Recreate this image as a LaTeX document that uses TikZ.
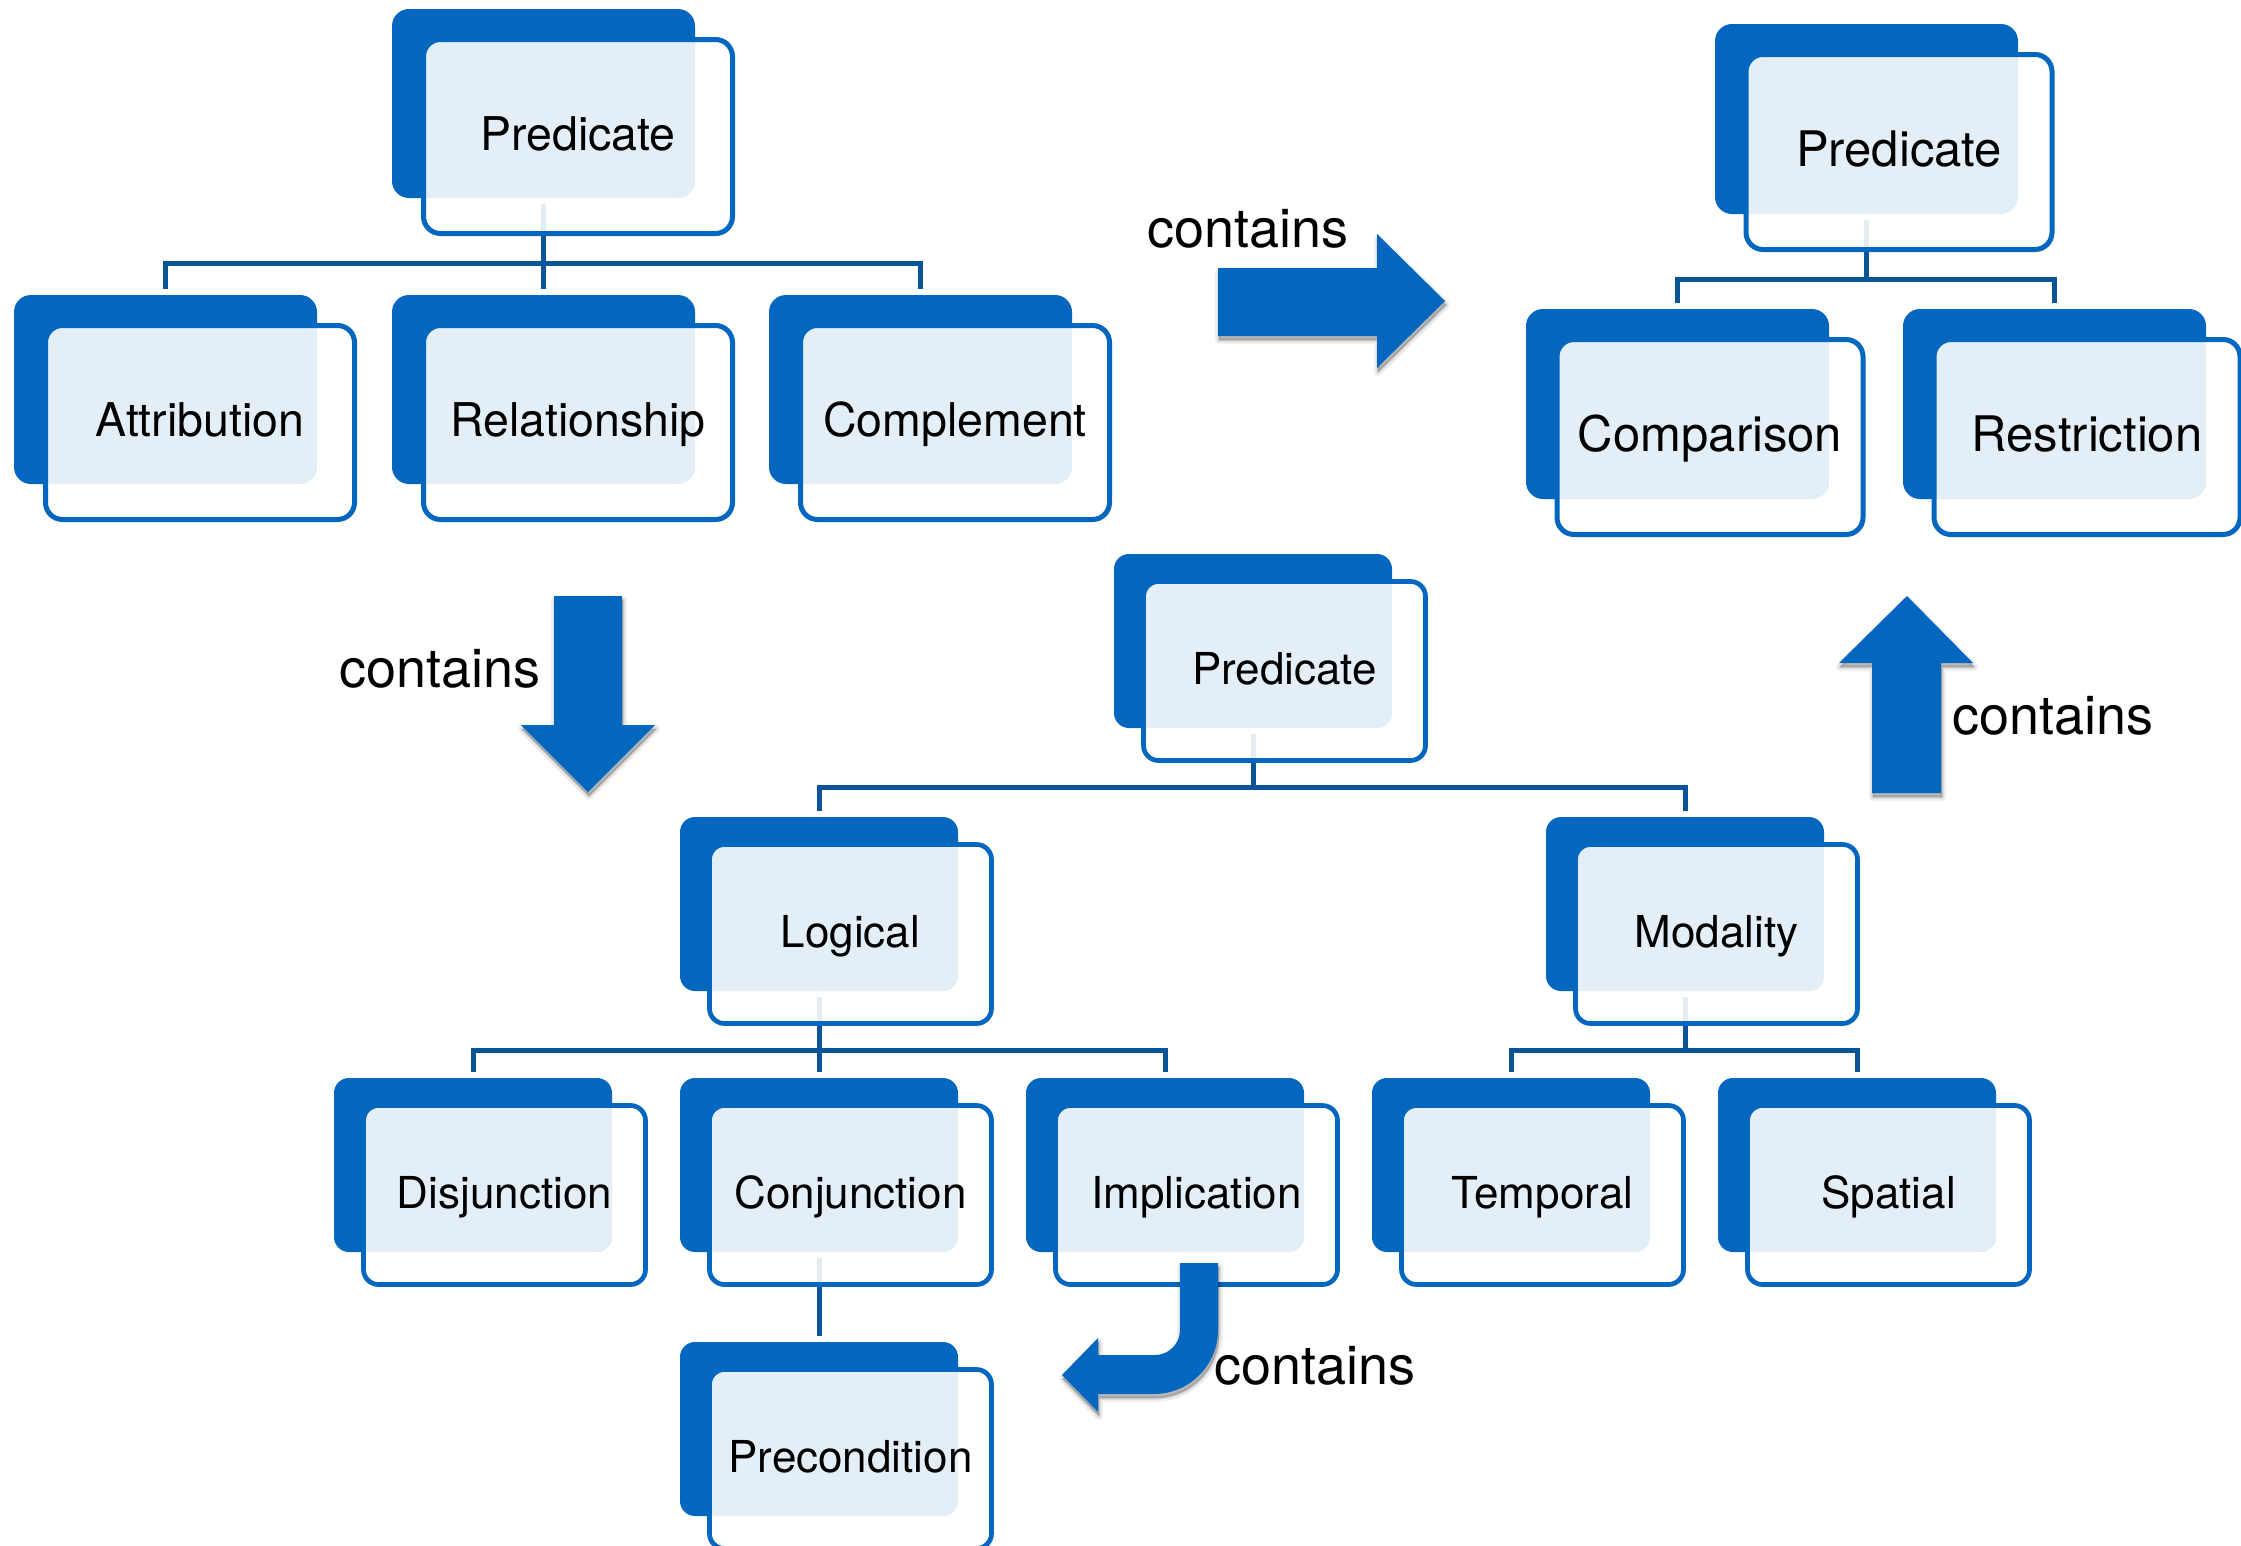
\documentclass[tikz,border=0pt]{standalone}
\usepackage{fontspec}
\setmainfont{TeX Gyre Heros}
\definecolor{boxblue}{RGB}{3,102,191}
\definecolor{lineblue}{RGB}{10,84,154}
\def\arrowR{(1218,268) -- (1377,268) -- (1377,234) -- (1445,301) -- (1377,368) -- (1377,336) -- (1218,336) -- cycle}
\def\arrowD{(554,596) -- (622,596) -- (622,725) -- (655,725) -- (588,792) -- (521,725) -- (554,725) -- cycle}
\def\arrowU{(1872,793) -- (1941,793) -- (1941,663) -- (1973,663) -- (1907,596) -- (1839,663) -- (1872,663) -- cycle}
\def\arrowC{(1180,1263) -- (1218,1263) -- (1218,1330)
   .. controls (1218,1365.3) and (1189.3,1394) .. (1154,1394)
   -- (1098,1394) -- (1098,1412) -- (1062,1375) -- (1098,1338) -- (1098,1355) -- (1155,1355)
   .. controls (1168.8,1355) and (1180,1343.8) .. (1180,1330) -- cycle}
\begin{document}
\begin{tikzpicture}[x=1pt,y=-1pt,
  dkbase/.style={rectangle, fill=boxblue, draw=none, anchor=north west, inner sep=0pt, outer sep=0pt, rounded corners=17pt},
  olbase/.style={rectangle, draw=boxblue, line width=5pt, fill=white, fill opacity=0.89, text opacity=1, anchor=north west, inner sep=0pt, outer sep=0pt, rounded corners=17pt, text=black},
  dkA/.style={dkbase, minimum width=303pt, minimum height=189pt},
  olA/.style={olbase, minimum width=309pt, minimum height=194pt, font=\fontsize{46.5}{56}\selectfont, text height=35pt, text depth=8pt},
  dkB/.style={dkbase, minimum width=303pt, minimum height=190pt},
  olB/.style={olbase, minimum width=306pt, minimum height=195pt, font=\fontsize{49}{59}\selectfont, text height=36.5pt, text depth=8pt},
  dkC/.style={dkbase, rounded corners=15pt, minimum width=278pt, minimum height=174pt},
  olC/.style={olbase, rounded corners=15pt, line width=4.7pt, minimum width=282pt, minimum height=179pt, font=\fontsize{44}{53}\selectfont, text height=33pt, text depth=7pt},
  conn/.style={draw=lineblue, line width=5pt, line join=miter},
  bigarrow/.style={fill=boxblue},
  shadowlayer/.style={fill=black, draw=black, line join=round, opacity=#1, shift={(1,4)}},
  lbl/.style={anchor=base, inner sep=0pt, font=\fontsize{54}{64}\selectfont, text=black}
]
\useasboundingbox (0,0) rectangle (2241,1545);
\fill[white] (0,0) rectangle (2241,1545);

% ---------- dark back boxes ----------
\node[dkA] (p1) at (392,9) {};
\node[dkA] (a1) at (14,295) {};
\node[dkA] (r1) at (392,295) {};
\node[dkA] (c1) at (769,295) {};

\node[dkB] (p2) at (1715,24) {};
\node[dkB] (cm) at (1526,309) {};
\node[dkB] (rs) at (1903,309) {};

\node[dkC] (p3) at (1114,554) {};
\node[dkC] (lg) at (680,817) {};
\node[dkC] (md) at (1546,817) {};
\node[dkC] (dj) at (334,1078) {};
\node[dkC] (cj) at (680,1078) {};
\node[dkC] (im) at (1026,1078) {};
\node[dkC] (tp) at (1372,1078) {};
\node[dkC] (sp) at (1718,1078) {};
\node[dkC] (pc) at (680,1342) {};

% ---------- connectors ----------
\coordinate (b1) at (0,263);
\draw[conn] ([yshift=-6pt]p1.south) -- (p1.south |- b1);
\draw[conn] ([yshift=6pt]a1.north) -- (a1.north |- b1) -- (c1.north |- b1) -- ([yshift=6pt]c1.north);
\draw[conn] ([yshift=6pt]r1.north) -- (r1.north |- b1);

\coordinate (b2) at (0,279);
\draw[conn] ([yshift=-6pt]p2.south) -- (p2.south |- b2);
\draw[conn] ([yshift=6pt]cm.north) -- (cm.north |- b2) -- (rs.north |- b2) -- ([yshift=6pt]rs.north);

\coordinate (b3) at (0,787);
\draw[conn] ([yshift=-6pt]p3.south) -- (p3.south |- b3);
\draw[conn] ([yshift=6pt]lg.north) -- (lg.north |- b3) -- (md.north |- b3) -- ([yshift=6pt]md.north);

\coordinate (b4) at (0,1050);
\draw[conn] ([yshift=-6pt]lg.south) -- (lg.south |- b4);
\draw[conn] ([yshift=6pt]dj.north) -- (dj.north |- b4) -- (im.north |- b4) -- ([yshift=6pt]im.north);
\draw[conn] ([yshift=6pt]cj.north) -- (cj.north |- b4);
\draw[conn] ([yshift=-6pt]md.south) -- (md.south |- b4);
\draw[conn] ([yshift=6pt]tp.north) -- (tp.north |- b4) -- (sp.north |- b4) -- ([yshift=6pt]sp.north);
\draw[conn] ([yshift=-6pt]cj.south) -- ([yshift=6pt]pc.north);

% ---------- front outlined boxes ----------
\node[olA] (p1o) at ([shift={(31.5,30.5)}]p1.north west) {Predicate};
\node[olA] (a1o) at ([shift={(31.5,30.5)}]a1.north west) {Attribution};
\node[olA] (r1o) at ([shift={(31.5,30.5)}]r1.north west) {Relationship};
\node[olA] (c1o) at ([shift={(31.5,30.5)}]c1.north west) {Complement};

\node[olB] (p2o) at ([shift={(31,30.5)}]p2.north west) {Predicate};
\node[olB] (cmo) at ([shift={(31,30.5)}]cm.north west) {Comparison};
\node[olB] (rso) at ([shift={(31,30.5)}]rs.north west) {Restriction};

\node[olC] (p3o) at ([shift={(29.5,27.5)}]p3.north west) {Predicate};
\node[olC] (lgo) at ([shift={(29.5,27.5)}]lg.north west) {Logical};
\node[olC] (mdo) at ([shift={(29.5,27.5)}]md.north west) {Modality};
\node[olC] (djo) at ([shift={(29.5,27.5)}]dj.north west) {Disjunction};
\node[olC] (cjo) at ([shift={(29.5,27.5)}]cj.north west) {Conjunction};
\node[olC] (imo) at ([shift={(29.5,27.5)}]im.north west) {Implication};
\node[olC] (tpo) at ([shift={(29.5,27.5)}]tp.north west) {Temporal};
\node[olC] (spo) at ([shift={(29.5,27.5)}]sp.north west) {Spatial};
\node[olC] (pco) at ([shift={(29.5,27.5)}]pc.north west) {Precondition};

% ---------- soft shadows of the block arrows ----------
\foreach \p in {\arrowR,\arrowD,\arrowU,\arrowC}{
  \path[shadowlayer=0.06, line width=8pt] \p;
  \path[shadowlayer=0.08, line width=4pt] \p;
  \path[shadowlayer=0.10, line width=1pt] \p;
}

% ---------- block arrows ----------
\fill[bigarrow] \arrowR;
\fill[bigarrow] \arrowD;
\fill[bigarrow] \arrowU;
\fill[bigarrow] \arrowC;

% ---------- labels ----------
\node[lbl] (t1) at (1248,247) {contains};
\node[lbl] (t2) at (440,687) {contains};
\node[lbl] (t3) at (2053,734) {contains};
\node[lbl] (t4) at (1315,1384) {contains};
\end{tikzpicture}
\end{document}
